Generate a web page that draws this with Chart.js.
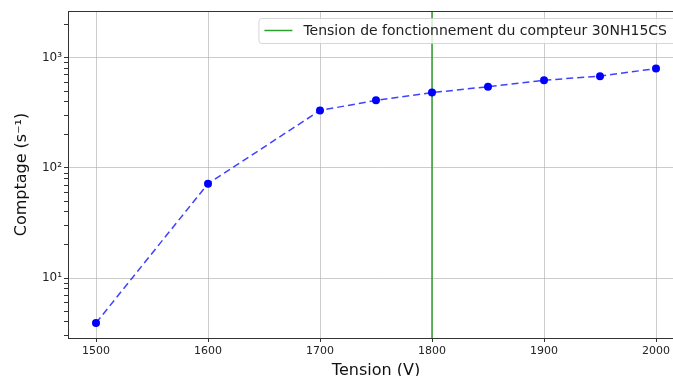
<!DOCTYPE html>
<html>
<head>
<meta charset="utf-8">
<script src="https://cdn.jsdelivr.net/npm/chart.js@4/dist/chart.umd.min.js"></script>
<style>
  html, body { margin: 0; padding: 0; overflow: hidden; background: #fff; }
  canvas { display: block; }
</style>
</head>
<body>
<canvas id="chart" width="690" height="384"></canvas>
<script>
// Tension (V) and counts (s^-1)
const tensions = [1500, 1600, 1700, 1750, 1800, 1850, 1900, 1950, 2000];
const comptages = [3.9, 72, 333, 412, 484, 548, 627, 683, 801];
const xTicks = [1500, 1600, 1700, 1800, 1900, 2000];
const yMajor = [10, 100, 1000];
const yLabels = ['10¹', '10²', '10³'];
const tensionFonct = 1800;
const legendText = 'Tension de fonctionnement du compteur 30NH15CS';

const X_MIN = 1475, X_MAX = 2025;
const Y_MIN = 2.85, Y_MAX = 2670;

const FONT = 'DejaVu Sans';
const GRID = 'rgba(176,176,176,0.65)';
const SPINE = '#333';

// log ticks (major + minor) between the limits
function logTicks() {
  const out = [];
  for (let e = 0; e <= 3; e++) {
    for (let m = 1; m <= 9; m++) {
      const v = m * Math.pow(10, e);
      if (v >= Y_MIN && v <= Y_MAX) out.push({ value: v });
    }
  }
  return out;
}

function isMajor(v) {
  return yMajor.some(m => Math.abs(m - v) < 1e-9);
}

const framePlugin = {
  id: 'frame',
  afterDraw(chart) {
    const { ctx, chartArea: a } = chart;
    ctx.save();
    ctx.strokeStyle = SPINE;
    ctx.lineWidth = 1;
    ctx.strokeRect(a.left + 0.5, a.top + 0.5, a.right - a.left, a.bottom - a.top);
    ctx.restore();
  }
};

// legend box drawn inside the plot, top right like matplotlib
const legendPlugin = {
  id: 'inlineLegend',
  afterDatasetsDraw(chart) {
    const { ctx, chartArea: a } = chart;
    ctx.save();
    ctx.font = '14px "' + FONT + '"';
    const tw = ctx.measureText(legendText).width;
    const w = tw + 55;
    const h = 25;
    const x = a.right - 7 - w;
    const y = a.top + 7;
    ctx.fillStyle = 'rgba(255,255,255,0.8)';
    ctx.strokeStyle = 'rgba(204,204,204,0.8)';
    ctx.lineWidth = 1;
    ctx.beginPath();
    ctx.roundRect(x + 0.5, y + 0.5, w, h, 3);
    ctx.fill();
    ctx.stroke();
    ctx.strokeStyle = '#2ca02c';
    ctx.lineWidth = 1.5;
    ctx.beginPath();
    ctx.moveTo(x + 6, y + 12.5);
    ctx.lineTo(x + 34, y + 12.5);
    ctx.stroke();
    ctx.fillStyle = '#222';
    ctx.textBaseline = 'middle';
    ctx.fillText(legendText, x + 45, y + 13);
    ctx.restore();
  }
};

const ctx = document.getElementById('chart').getContext('2d');
new Chart(ctx, {
  type: 'line',
  data: {
    datasets: [
      {
        label: 'Comptage',
        data: tensions.map((t, i) => ({ x: t, y: comptages[i] })),
        borderColor: 'rgba(0,0,255,0.75)',
        borderWidth: 1.5,
        borderDash: [7, 4],
        pointBackgroundColor: '#0000ff',
        pointBorderColor: '#0000ff',
        pointRadius: 4,
        pointBorderWidth: 0,
        fill: false,
        tension: 0
      },
      {
        label: legendText,
        data: [{ x: tensionFonct, y: Y_MIN }, { x: tensionFonct, y: Y_MAX }],
        borderColor: '#2ca02c',
        borderWidth: 1.5,
        pointRadius: 0,
        fill: false
      }
    ]
  },
  options: {
    responsive: false,
    devicePixelRatio: 1,
    animation: false,
    layout: { padding: { left: 0, top: 11, right: 6, bottom: 0 } },
    plugins: {
      legend: { display: false },
      tooltip: { enabled: false }
    },
    scales: {
      x: {
        type: 'linear',
        min: X_MIN,
        max: X_MAX,
        afterBuildTicks(scale) { scale.ticks = xTicks.map(v => ({ value: v })); },
        afterFit(scale) { scale.height = 46; },
        ticks: {
          color: '#222',
          font: { family: FONT, size: 11 },
          padding: 3,
          maxRotation: 0,
          callback: v => String(v)
        },
        grid: { color: GRID, lineWidth: 1, tickLength: 4, tickColor: SPINE },
        border: { color: SPINE, width: 1 },
        title: {
          display: true,
          text: 'Tension (V)',
          color: '#111',
          font: { family: FONT, size: 16 },
          padding: { top: 0, bottom: 4 }
        }
      },
      y: {
        type: 'logarithmic',
        min: Y_MIN,
        max: Y_MAX,
        afterBuildTicks(scale) { scale.ticks = logTicks(); },
        afterFit(scale) { scale.width = 68; },
        ticks: {
          color: '#222',
          font: { family: FONT, size: 12 },
          padding: 2,
          autoSkip: false,
          callback: function (v) {
            const i = yMajor.findIndex(m => Math.abs(m - v) < 1e-9);
            return i >= 0 ? yLabels[i] : '';
          }
        },
        grid: {
          color: c => (c.tick && isMajor(c.tick.value)) ? GRID : 'rgba(0,0,0,0)',
          tickColor: SPINE,
          tickLength: 4,
          lineWidth: 1
        },
        border: { color: SPINE, width: 1 },
        title: {
          display: true,
          text: 'Comptage (s⁻¹)',
          color: '#111',
          font: { family: FONT, size: 16 },
          padding: { top: 12, bottom: 0 }
        }
      }
    }
  },
  plugins: [framePlugin, legendPlugin]
});
</script>
</body>
</html>
